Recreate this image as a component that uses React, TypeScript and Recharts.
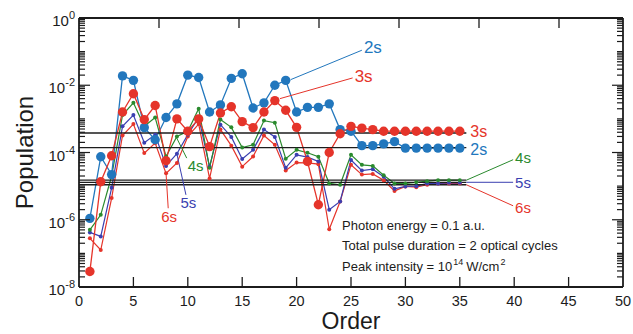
import { LineChart, Line, XAxis, YAxis, ReferenceLine, ReferenceDot } from 'recharts';

// harmonic order, 1..35
const orders = [
  1, 2, 3, 4, 5, 6, 7, 8, 9, 10, 11, 12, 13, 14, 15, 16, 17, 18,
  19, 20, 21, 22, 23, 24, 25, 26, 27, 28, 29, 30, 31, 32, 33, 34, 35,
];

const pop2s = [
  1.1e-6, 7.5e-5, 2.2e-5, 1.9e-2, 1.4e-2, 5.5e-4, 2.4e-4, 1.1e-3, 2.8e-3, 2.0e-2,
  1.7e-2, 1.6e-3, 2.6e-3, 1.6e-2, 2.2e-2, 2.1e-3, 3.0e-3, 1.0e-2, 1.4e-2, 1.6e-3,
  2.2e-3, 2.2e-3, 2.8e-3, 4.8e-4, 4.3e-4, 1.6e-4, 1.6e-4, 1.8e-4, 2.1e-4, 1.35e-4,
  1.35e-4, 1.35e-4, 1.35e-4, 1.35e-4, 1.35e-4,
];

const pop3s = [
  2.9e-8, 1.35e-5, 8.0e-5, 1.6e-3, 5.6e-3, 9.5e-4, 2.5e-3, 5.7e-5, 1.0e-3, 4.3e-4,
  1.0e-3, 1.5e-4, 1.5e-3, 2.3e-3, 8.3e-4, 5.5e-4, 1.6e-3, 3.5e-3, 1.8e-3, 5.6e-4,
  5.4e-5, 2.8e-6, 1.0e-4, 3.6e-4, 6.0e-4, 5.3e-4, 4.8e-4, 4.3e-4, 4.3e-4, 4.3e-4,
  4.3e-4, 4.3e-4, 4.3e-4, 4.3e-4, 4.3e-4,
];

const pop4s = [
  5.0e-7, 1.4e-6, 2.0e-5, 1.3e-3, 3.0e-3, 6.0e-4, 1.1e-3, 7.6e-5, 3.0e-4, 4.3e-4,
  2.0e-3, 3.5e-5, 9.5e-4, 5.6e-4, 1.4e-4, 1.7e-4, 8.9e-4, 7.7e-4, 6.5e-5, 1.2e-4,
  9.8e-5, 7.5e-5, 1.2e-5, 1.1e-5, 8.5e-5, 4.3e-5, 4.0e-5, 2.1e-5, 1.2e-5, 1.2e-5,
  1.3e-5, 1.4e-5, 1.5e-5, 1.5e-5, 1.5e-5,
];

const pop5s = [
  4.2e-7, 3.2e-7, 8.9e-6, 6.0e-4, 1.3e-3, 1.95e-4, 3.4e-4, 4.0e-5, 9.2e-5, 3.4e-4,
  1.1e-3, 3.8e-5, 6.7e-4, 2.9e-4, 6.4e-5, 1.2e-4, 4.8e-4, 2.9e-4, 3.5e-5, 8.5e-5,
  7.3e-5, 5.4e-5, 2.0e-6, 3.5e-6, 6.0e-5, 2.9e-5, 3.2e-5, 1.9e-5, 8.3e-6, 9.8e-6,
  1.0e-5, 1.2e-5, 1.2e-5, 1.25e-5, 1.25e-5,
];

const pop6s = [
  2.8e-7, 1.26e-7, 4.4e-6, 3.2e-4, 7.0e-4, 9.6e-5, 1.9e-4, 2.4e-5, 4.9e-5, 3.0e-4,
  7.0e-4, 1.7e-5, 4.8e-4, 1.6e-4, 3.8e-5, 7.6e-5, 3.2e-4, 1.7e-4, 2.9e-5, 5.0e-5,
  4.9e-5, 4.5e-5, 5.2e-7, 3.5e-6, 4.3e-5, 2.2e-5, 2.3e-5, 1.5e-5, 7.2e-6, 9.8e-6,
  9.3e-6, 1.1e-5, 1.2e-5, 1.2e-5, 1.2e-5,
];

// asymptotic populations (horizontal lines), in order 3s, 2s, 4s, 5s, 6s
const levelStates = ['3s', '2s', '4s', '5s', '6s'];
const levelValues = [3.8e-4, 1.4e-4, 1.5e-5, 1.3e-5, 1.1e-5];
const levelEnd = 35.6;

// leader lines from a curve to its tag: [x1, y1, x2, y2]
const leaderStates = ['2s', '3s', '4s', '5s', '6s', '4s', '5s', '6s'];
const leaderCoords: [number, number, number, number][] = [
  [19.46, 1.47e-2, 26.0, 1.1e-1],
  [18.47, 4.0e-3, 25.15, 1.65e-2],
  [8.98, 2.7e-4, 9.9, 6.8e-5],
  [8.98, 9.6e-5, 9.83, 5.5e-6],
  [8.0, 2.44e-5, 8.2, 2.2e-6],
  [35.6, 1.5e-5, 39.9, 6.1e-5],
  [35.6, 1.3e-5, 39.9, 1.3e-5],
  [35.6, 1.1e-5, 39.9, 2.6e-6],
];

const xTicks = [0, 5, 10, 15, 20, 25, 30, 35, 40, 45, 50];
const yMajor = [1e-8, 1e-6, 1e-4, 1e-2, 1];

const notes = ['Photon energy = 0.1 a.u.', 'Total pulse duration = 2 optical cycles'];

const INK = '#1c1c1c';
const FONT = '"Liberation Sans", Arial, Helvetica, sans-serif';
const colors: Record<string, string> = {
  '2s': '#2277bd',
  '3s': '#e5342a',
  '4s': '#2a8a2e',
  '5s': '#3a3fb0',
  '6s': '#e5342a',
};

// log minor ticks, 2..9 in every decade plus the odd decades
const yTicks: number[] = [];
for (let k = -8; k <= 0; k++) {
  for (let m = 1; m <= 9; m++) {
    if (k === 0 && m > 1) break;
    yTicks.push(Number((m * Math.pow(10, k)).toPrecision(3)));
  }
}

const isMajor = (v: number) => yMajor.some((m) => Math.abs(Math.log10(v) - Math.log10(m)) < 1e-6);

const rows = orders.map((o, i) => ({
  order: o,
  s2: pop2s[i],
  s3: pop3s[i],
  s4: pop4s[i],
  s5: pop5s[i],
  s6: pop6s[i],
}));

const LeftTick = ({ x, y, payload }: any) => {
  const v = payload.value;
  const major = isMajor(v);
  return (
    <g>
      <line x1={x} x2={x + (major ? 11 : 6)} y1={y} y2={y} stroke={INK} strokeWidth={1.2} />
      {major && (
        <text x={x - 4} y={y + 8} textAnchor="end" fontSize={15} fill={INK} fontFamily={FONT}>
          <tspan>10</tspan>
          <tspan dy={-7} fontSize={11}>{Math.round(Math.log10(v))}</tspan>
        </text>
      )}
    </g>
  );
};

const RightTick = ({ x, y, payload }: any) => {
  const major = isMajor(payload.value);
  return <line x1={x} x2={x - (major ? 11 : 6)} y1={y} y2={y} stroke={INK} strokeWidth={1.2} />;
};

const BottomTick = ({ x, y, payload }: any) => (
  <g>
    {payload.value > 0 && payload.value < 50 && (
      <line x1={x} x2={x} y1={y} y2={y - 10} stroke={INK} strokeWidth={1.3} />
    )}
    <text x={x} y={y + 18.5} textAnchor="middle" fontSize={14.5} fill={INK} fontFamily={FONT}>
      {payload.value}
    </text>
  </g>
);

const TopTick = ({ x, y, payload }: any) =>
  payload.value > 0 && payload.value < 50 ? (
    <line x1={x} x2={x} y1={y} y2={y + 10} stroke={INK} strokeWidth={1.3} />
  ) : (
    <g />
  );

// text tag placed next to a ReferenceDot
const tag = (text: string, color: string, size: number, dx: number, dy: number, anchor = 'start') => ({
  content: ({ viewBox }: any) => (
    <text
      x={viewBox.x + viewBox.width / 2 + dx}
      y={viewBox.y + viewBox.height / 2 + dy}
      dy="0.36em"
      textAnchor={anchor}
      fontSize={size}
      fill={color}
      fontFamily={FONT}
    >
      {text}
    </text>
  ),
});

// tag offsets for each leader end
const leaderTagStyle = [
  { size: 17, dx: 2, dy: -3, anchor: 'start' },
  { size: 17, dx: 2, dy: -2, anchor: 'start' },
  { size: 15, dx: 1, dy: 7, anchor: 'start' },
  { size: 15, dx: 2.5, dy: 8, anchor: 'middle' },
  { size: 15, dx: 1, dy: 8, anchor: 'middle' },
  { size: 15, dx: 2, dy: -2, anchor: 'start' },
  { size: 15, dx: 2, dy: 0, anchor: 'start' },
  { size: 15, dx: 2, dy: 2, anchor: 'start' },
];

const axisLine = { stroke: INK, strokeWidth: 1.8 };

export default function App() {
  return (
    <div style={{ position: 'absolute', left: 0, top: 0, background: '#fff' }}>
      <LineChart width={633} height={334} data={rows} margin={{ top: 17, right: 9, left: 19, bottom: 0 }}>
        <XAxis
          xAxisId="b"
          dataKey="order"
          type="number"
          domain={[0, 50]}
          ticks={xTicks}
          interval={0}
          allowDataOverflow
          height={47}
          tickSize={0}
          tickMargin={0}
          tickLine={false}
          axisLine={axisLine}
          tick={<BottomTick />}
        />
        <XAxis
          xAxisId="t"
          orientation="top"
          type="number"
          domain={[0, 50]}
          ticks={xTicks}
          interval={0}
          allowDataOverflow
          height={1}
          tickSize={0}
          tickMargin={0}
          tickLine={false}
          axisLine={axisLine}
          tick={<TopTick />}
        />
        <YAxis
          yAxisId="l"
          scale="log"
          domain={[1e-8, 1]}
          ticks={yTicks}
          interval={0}
          allowDataOverflow
          width={60}
          tickSize={0}
          tickMargin={0}
          tickLine={false}
          axisLine={axisLine}
          tick={<LeftTick />}
        />
        <YAxis
          yAxisId="r"
          orientation="right"
          scale="log"
          domain={[1e-8, 1]}
          ticks={yTicks}
          interval={0}
          allowDataOverflow
          width={1}
          tickSize={0}
          tickMargin={0}
          tickLine={false}
          axisLine={axisLine}
          tick={<RightTick />}
        />

        <Line xAxisId="b" yAxisId="l" dataKey="s6" stroke={colors['6s']} strokeWidth={1.2}
          dot={{ r: 2, fill: colors['6s'], stroke: colors['6s'], strokeWidth: 0 }} activeDot={false} isAnimationActive={false} />
        <Line xAxisId="b" yAxisId="l" dataKey="s5" stroke={colors['5s']} strokeWidth={1.2}
          dot={{ r: 2, fill: colors['5s'], stroke: colors['5s'], strokeWidth: 0 }} activeDot={false} isAnimationActive={false} />
        <Line xAxisId="b" yAxisId="l" dataKey="s4" stroke={colors['4s']} strokeWidth={1.2}
          dot={{ r: 2, fill: colors['4s'], stroke: colors['4s'], strokeWidth: 0 }} activeDot={false} isAnimationActive={false} />
        <Line xAxisId="b" yAxisId="l" dataKey="s2" stroke={colors['2s']} strokeWidth={1.3}
          dot={{ r: 4.7, fill: colors['2s'], stroke: colors['2s'], strokeWidth: 0 }} activeDot={false} isAnimationActive={false} />
        <Line xAxisId="b" yAxisId="l" dataKey="s3" stroke={colors['3s']} strokeWidth={1.3}
          dot={{ r: 4.7, fill: colors['3s'], stroke: colors['3s'], strokeWidth: 0 }} activeDot={false} isAnimationActive={false} />

        {levelValues.map((v, i) => (
          <ReferenceLine
            key={`lvl-${i}`}
            xAxisId="b"
            yAxisId="l"
            segment={[{ x: 0, y: v }, { x: levelEnd, y: v }]}
            stroke={INK}
            strokeWidth={1.3}
          />
        ))}
        {levelStates.slice(0, 2).map((s, i) => (
          <ReferenceDot key={`lvl-tag-${s}`} xAxisId="b" yAxisId="l" x={levelEnd} y={levelValues[i]} r={0}
            label={tag(s, colors[s], 16, 4, i === 0 ? -1.5 : 1.5)} />
        ))}

        {leaderCoords.map(([x1, y1, x2, y2], i) => (
          <ReferenceLine
            key={`lead-${i}`}
            xAxisId="b"
            yAxisId="l"
            segment={[{ x: x1, y: y1 }, { x: x2, y: y2 }]}
            stroke={colors[leaderStates[i]]}
            strokeWidth={1}
          />
        ))}
        {leaderCoords.map(([, , x2, y2], i) => {
          const st = leaderTagStyle[i];
          const s = leaderStates[i];
          return (
            <ReferenceDot key={`lead-tag-${i}`} xAxisId="b" yAxisId="l" x={x2} y={y2} r={0}
              label={tag(s, colors[s], st.size, st.dx, st.dy, st.anchor)} />
          );
        })}

        <g fontFamily={FONT} fill={INK}>
          <text x={342} y={229.5} fontSize={13}>{notes[0]}</text>
          <text x={342} y={250} fontSize={13}>{notes[1]}</text>
          <text x={342} y={270.5} fontSize={13}>
            Peak intensity = 10
            <tspan dy={-6} dx={1} fontSize={9}>14</tspan>
            <tspan dy={6} dx={3}>W/cm</tspan>
            <tspan dy={-6} dx={1} fontSize={9}>2</tspan>
          </text>
          <text x={351} y={329} fontSize={23} textAnchor="middle">Order</text>
          <text transform="translate(33,152.5) rotate(-90)" fontSize={24} textAnchor="middle">Population</text>
        </g>
      </LineChart>
    </div>
  );
}
